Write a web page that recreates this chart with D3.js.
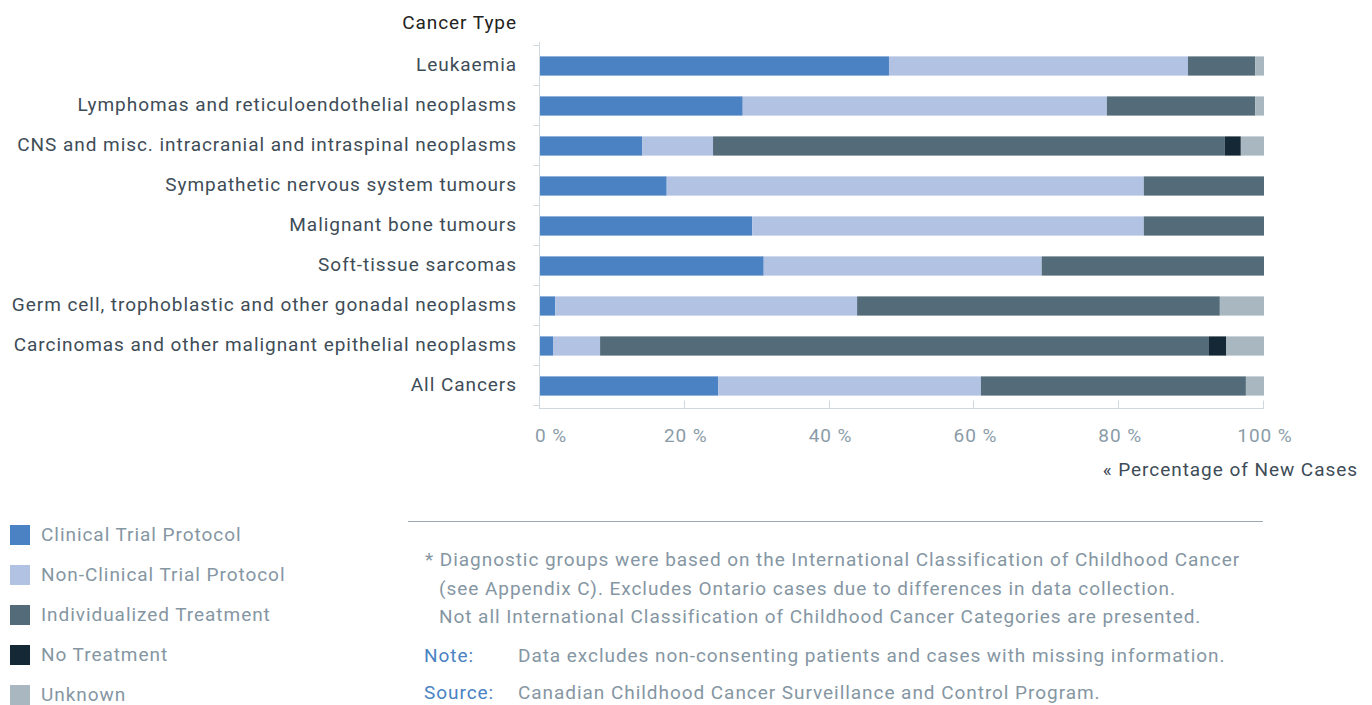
<!DOCTYPE html>
<html lang="en">
<head>
<meta charset="utf-8">
<title>Treatment by Cancer Type</title>
<script src="https://cdn.jsdelivr.net/npm/d3@7"></script>
<style>
  body { margin: 0; background: #fff; }
  svg text { font-family: Roboto, "Liberation Sans", sans-serif; font-size: 19px; letter-spacing: 0.95px; }
</style>
</head>
<body>
<script>
// categories (top to bottom)
var categories = [
  "Leukaemia",
  "Lymphomas and reticuloendothelial neoplasms",
  "CNS and misc. intracranial and intraspinal neoplasms",
  "Sympathetic nervous system tumours",
  "Malignant bone tumours",
  "Soft-tissue sarcomas",
  "Germ cell, trophoblastic and other gonadal neoplasms",
  "Carcinomas and other malignant epithelial neoplasms",
  "All Cancers"
];
var seriesNames = ["Clinical Trial Protocol", "Non-Clinical Trial Protocol", "Individualized Treatment", "No Treatment", "Unknown"];
var seriesColors = ["#4a82c3", "#b1c2e3", "#546b79", "#142935", "#a9b8c0"];

// percentage of new cases, one array per series, in category order
var clinical    = [48.2, 28.0, 14.1, 17.5, 29.3, 30.9,  2.1,  1.8, 24.6];
var nonClinical = [41.3, 50.3,  9.8, 65.9, 54.1, 38.4, 41.7,  6.5, 36.3];
var individual  = [ 9.3, 20.5, 70.7, 16.6, 16.6, 30.7, 50.1, 84.1, 36.6];
var noTreatment = [ 0.0,  0.0,  2.2,  0.0,  0.0,  0.0,  0.0,  2.4,  0.0];
var unknown     = [ 1.2,  1.2,  3.2,  0.0,  0.0,  0.0,  6.1,  5.2,  2.5];
var tickValues = [0, 20, 40, 60, 80, 100];

var w = 1372, h = 705;
var svg = d3.select("body").append("svg").attr("width", w).attr("height", h);

var rows = categories.map(function(c, i) {
  return { cat: c, v: [clinical[i], nonClinical[i], individual[i], noTreatment[i], unknown[i]] };
});
var keys = d3.range(seriesNames.length);
var stack = d3.stack().keys(keys).value(function(d, k) { return d.v[k]; });
var layers = stack(rows);

var x = d3.scaleLinear().domain([0, 100]).range([540, 1264]);
var y = d3.scaleBand().domain(categories).range([46, 406]).paddingInner(0.52).paddingOuter(0.26);

var axisColor = "#cfd8de";

// bars
svg.append("g").selectAll("g")
  .data(layers).enter().append("g")
    .attr("fill", function(d) { return seriesColors[d.key]; })
  .selectAll("rect")
  .data(function(d) { return d; }).enter().append("rect")
    .attr("x", function(d) { return x(d[0]); })
    .attr("y", function(d) { return y(d.data.cat); })
    .attr("width", function(d) { return Math.max(0, x(d[1]) - x(d[0])); })
    .attr("height", y.bandwidth());

// y axis
var yAxis = svg.append("g").attr("transform", "translate(539.5,0)");
yAxis.append("line").attr("y1", 42).attr("y2", 408).attr("stroke", axisColor);
var step = y.step();
yAxis.selectAll("line.tk")
  .data(d3.range(categories.length + 1)).enter().append("line")
    .attr("class", "tk")
    .attr("x1", -6).attr("x2", 0)
    .attr("y1", function(i) { return 45.5 + i * step; })
    .attr("y2", function(i) { return 45.5 + i * step; })
    .attr("stroke", axisColor);
svg.append("g").selectAll("text")
  .data(categories).enter().append("text")
    .attr("x", 517)
    .attr("y", function(d) { return y(d) + y.bandwidth() / 2; })
    .attr("dy", "0.28em")
    .attr("text-anchor", "end")
    .attr("fill", "#3e4c57")
    .text(function(d) { return d; });
svg.append("text").attr("x", 517).attr("y", 29).attr("text-anchor", "end")
  .attr("fill", "#222").text("Cancer Type");

// x axis
var xAxis = svg.append("g").attr("transform", "translate(0,408.5)");
xAxis.append("line").attr("x1", 539).attr("x2", 1264).attr("stroke", axisColor);
xAxis.selectAll("line.tk").data(tickValues).enter().append("line")
  .attr("class", "tk")
  .attr("x1", function(d) { return Math.round(x(d)) - 0.5; })
  .attr("x2", function(d) { return Math.round(x(d)) - 0.5; })
  .attr("y1", -8).attr("y2", 0).attr("stroke", axisColor);
xAxis.selectAll("text").data(tickValues).enter().append("text")
  .attr("x", function(d) { return x(d) + (d === 0 ? 11 : 1); })
  .attr("y", 33)
  .attr("text-anchor", "middle")
  .attr("fill", "#8b9ca8")
  .text(function(d) { return d + " %"; });
svg.append("text").attr("x", 1358).attr("y", 476).attr("text-anchor", "end")
  .attr("fill", "#3e4c57").text("\u00ab Percentage of New Cases");

// legend
var legend = svg.append("g").selectAll("g")
  .data(seriesNames).enter().append("g")
    .attr("transform", function(d, i) { return "translate(10," + (525 + i * 40) + ")"; });
legend.append("rect").attr("width", 20).attr("height", 20)
  .attr("fill", function(d, i) { return seriesColors[i]; });
legend.append("text").attr("x", 31).attr("y", 10).attr("dy", "0.33em")
  .attr("fill", "#8596a3")
  .text(function(d) { return d; });

// notes
svg.append("line").attr("x1", 408).attr("x2", 1263).attr("y1", 521.5).attr("y2", 521.5)
  .attr("stroke", "#9aa9b4");
var footLines = [
  "* Diagnostic groups were based on the International Classification of Childhood Cancer",
  "(see Appendix C). Excludes Ontario cases due to differences in data collection.",
  "Not all International Classification of Childhood Cancer Categories are presented."
];
svg.append("g").selectAll("text").data(footLines).enter().append("text")
  .attr("x", function(d, i) { return i === 0 ? 425 : 439; })
  .attr("y", function(d, i) { return 566 + i * 28.5; })
  .attr("fill", "#8596a3")
  .text(function(d) { return d; });
var notes = [["Note:", "Data excludes non-consenting patients and cases with missing information."],
             ["Source:", "Canadian Childhood Cancer Surveillance and Control Program."]];
var ng = svg.append("g").selectAll("g").data(notes).enter().append("g")
  .attr("transform", function(d, i) { return "translate(0," + (662 + i * 37) + ")"; });
ng.append("text").attr("x", 424).attr("fill", "#4a82c3")
  .text(function(d) { return d[0]; });
ng.append("text").attr("x", 518).attr("fill", "#8596a3")
  .text(function(d) { return d[1]; });
</script>
</body>
</html>
